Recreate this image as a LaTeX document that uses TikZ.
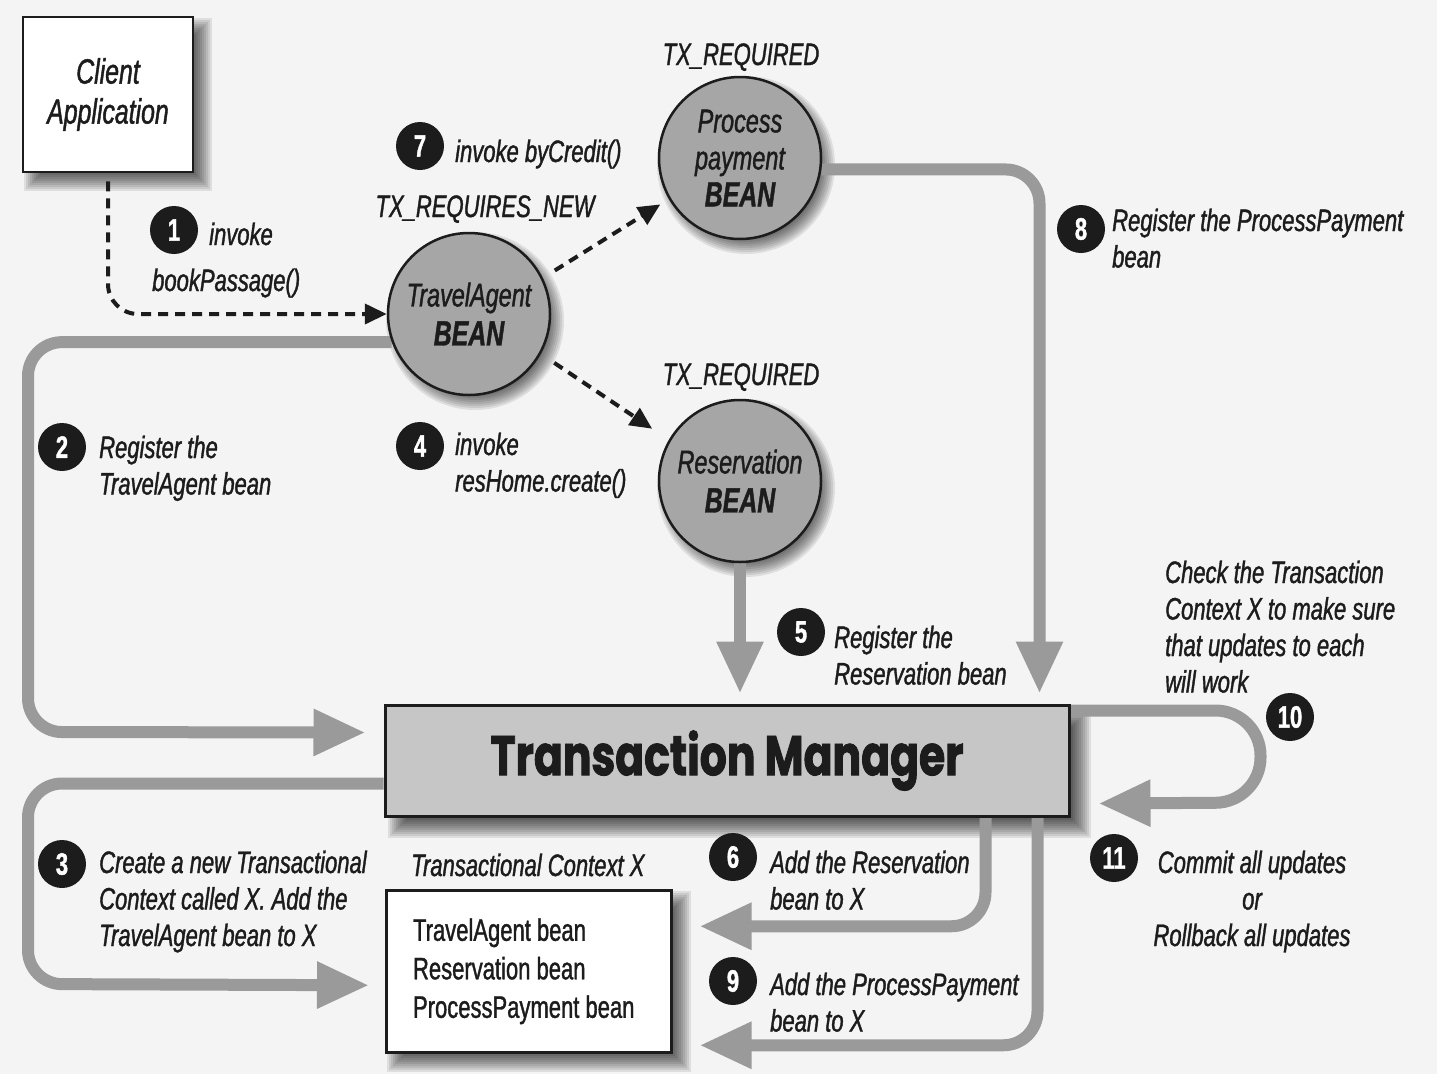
\documentclass[tikz,border=0pt]{standalone}
\usepackage{fontspec}
\setmainfont{Liberation Sans}
\newfontfamily\condfont{Liberation Sans}[FakeStretch=0.71, FakeBold=1.2]
\newfontfamily\heavyfont{Poppins}[FakeStretch=0.76, FakeBold=1.5]
\usetikzlibrary{arrows.meta,calc}

\definecolor{paper}{HTML}{F4F4F4}
\definecolor{ink}{HTML}{1C1C1C}
\definecolor{arrowgray}{HTML}{9A9A9A}
\definecolor{beangray}{HTML}{A6A6A6}
\definecolor{tmgray}{HTML}{C6C6C6}

\pgfdeclarelayer{paperlayer}
\pgfdeclarelayer{shade}
\pgfdeclarelayer{wires}
\pgfsetlayers{paperlayer,shade,wires,main}

% soft drop shadows built from stacked translucent shapes
\newcommand\boxshade[2]{%
  \foreach \sh in {-8,-6,...,10}{%
    \fill[black, opacity=0.085]
      ($(#1.north west)+(#2+\sh,#2+\sh)$) rectangle ($(#1.south east)+(#2-\sh,#2-\sh)$);
  }}
\newcommand\circshade[2]{%
  \foreach \sh in {-8,-6,...,10}{%
    \fill[black, opacity=0.085] ($(#1.center)+(6,7)$) circle[radius={#2-(\sh)}];
  }}

\tikzset{
  lbl/.style={font=\condfont\itshape\fontsize{31}{36.5}\selectfont, text=ink,
    align=left, inner sep=0pt, anchor=base west},
  lblc/.style={lbl, align=center, anchor=base},
  num/.style={circle, fill=ink, text=white, minimum size=48pt, inner sep=0pt,
    font=\condfont\bfseries\fontsize{31}{31}\selectfont},
  bean/.style={circle, draw=ink, line width=2.5pt, fill=beangray,
    minimum size=162pt, inner sep=0pt, align=center, text=ink,
    font=\condfont\itshape\fontsize{33}{39}\selectfont},
  plainbox/.style={rectangle, draw=ink, line width=2.5pt, fill=white, text=ink,
    inner sep=0pt},
  tmbox/.style={rectangle, draw=ink, line width=3pt, fill=tmgray, text=ink,
    minimum width=684pt, minimum height=111pt, inner sep=0pt,
    font=\heavyfont\bfseries\fontsize{56}{60}\selectfont},
  garrow/.style={draw=arrowgray, line width=12pt, rounded corners=34pt,
    -{Triangle[length=52pt,width=44pt]}},
  darrow/.style={draw=ink, line width=4pt, dash pattern=on 10pt off 7pt,
    -{Triangle[length=22pt,width=20pt]}},
}

\begin{document}
\begin{tikzpicture}[x=1pt,y=-1pt]
\useasboundingbox (0,0) rectangle (1437,1074);
\begin{pgfonlayer}{paperlayer}
  \fill[paper] (0,0) rectangle (1437,1074);
\end{pgfonlayer}

% --- components ---
\node[plainbox, minimum width=170pt, minimum height=155pt, align=center,
      font=\condfont\itshape\fontsize{35}{40}\selectfont]
      (client) at (108,94.5) {Client\\Application};

\node[bean] (ta) at (469,314) {TravelAgent\\{\bfseries\fontsize{35}{39}\selectfont BEAN}};
\node[bean, font=\condfont\itshape\fontsize{33}{37}\selectfont]
      (pp) at (740,158) {Process\\payment\\{\bfseries\fontsize{35}{37}\selectfont BEAN}};
\node[bean] (res) at (740,481) {Reservation\\{\bfseries\fontsize{35}{39}\selectfont BEAN}};

\node[lblc] (txnew) at (485,217) {TX\_REQUIRES\_NEW};
\node[lblc] (txpp) at (741,65) {TX\_REQUIRED};
\node[lblc] (txres) at (741,385) {TX\_REQUIRED};

\node[tmbox] (tm) at (727,760.5) {Transaction Manager};

\node[plainbox, anchor=north west, minimum width=285pt, minimum height=162pt,
      align=left, font=\condfont\fontsize{31}{38.5}\selectfont]
      (ctx) at (385,889) {TravelAgent bean\\Reservation bean\\ProcessPayment bean\hspace*{10pt}};
\node[lbl] (ctxtitle) at (411,876) {Transactional Context X};

\begin{pgfonlayer}{shade}
  \boxshade{client}{10}
  \boxshade{ctx}{10}
  \boxshade{tm}{12}
  \circshade{ta}{81}
  \circshade{pp}{81}
  \circshade{res}{81}
\end{pgfonlayer}

% --- step markers ---
\node[num] (m1) at (174,230) {1};
\node[num] (m2) at (62,447) {2};
\node[num] (m3) at (62,864) {3};
\node[num] (m4) at (420,446) {4};
\node[num] (m5) at (801,632) {5};
\node[num] (m6) at (733,857) {6};
\node[num] (m7) at (420,146) {7};
\node[num] (m8) at (1081,229) {8};
\node[num] (m9) at (733,981) {9};
\node[num] (m10) at (1290,717) {10};
\node[num] (m11) at (1114,858) {11};

% --- step texts (anchored at the baseline of their last line) ---
\node[lbl] (t1a) at (209,245) {invoke};
\node[lbl] (t1b) at (152,291) {bookPassage()};
\node[lbl] (t2) at (99,494.5) {Register the\\TravelAgent bean};
\node[lbl] (t3) at (99,946) {Create a new Transactional\\Context called X. Add the\\TravelAgent bean to X};
\node[lbl] (t4) at (455,491.5) {invoke\\resHome.create()};
\node[lbl] (t5) at (834,684.5) {Register the\\Reservation bean};
\node[lbl] (t6) at (770,909.5) {Add the Reservation\\bean to X};
\node[lbl] (t7) at (455,162) {invoke byCredit()};
\node[lbl] (t8) at (1112,267.5) {Register the ProcessPayment\\bean};
\node[lbl] (t9) at (770,1031.5) {Add the ProcessPayment\\bean to X};
\node[lbl] (t10) at (1165,692.5) {Check the Transaction\\Context X to make sure\\that updates to each\\will work};
\node[lblc] (t11) at (1252,946) {Commit all updates\\or\\Rollback all updates};

% --- connectors ---
\begin{pgfonlayer}{wires}
  % method calls
  \draw[darrow, rounded corners=30pt, shorten <=8pt] (client.south) |- (ta.west);
  \draw[darrow, shorten <=14pt, shorten >=10pt] (ta.26) -- (pp.210);
  \draw[darrow, shorten <=16pt, shorten >=20pt] (ta.-29) -- (res.150);

  % registrations with the transaction manager
  \coordinate (in2) at ($(tm.west)+(-18,-28)$);
  \draw[garrow] (ta.200) -| (28,732) -- (in2);
  \coordinate (in5) at ($(res.south |- tm.north)+(0,-10)$);
  \draw[garrow] (res.south) -- (in5);
  \coordinate (in8) at ($(tm.north east)+(-31,-10)$);
  \draw[garrow] (pp.-8) -| (in8);

  % transactional context updates
  \coordinate (out3) at ($(tm.west)+(0,23)$);
  \coordinate (in3) at ($(ctx.west)+(-16,14)$);
  \draw[garrow] (out3) -| (28,984) -- (in3);
  \coordinate (out6) at ($(tm.south east)+(-85,0)$);
  \coordinate (in6) at ($(ctx.east)+(27,-45)$);
  \draw[garrow] (out6) |- (in6);
  \coordinate (out9) at ($(tm.south east)+(-33,0)$);
  \coordinate (in9) at ($(ctx.east)+(27,74)$);
  \draw[garrow] (out9) |- (in9);

  % check and commit loop
  \coordinate (out10) at ($(tm.north east)+(0,7)$);
  \coordinate (in11) at ($(tm.east)+(28,43)$);
  \draw[garrow, rounded corners=45pt] (out10) -- ++(190,0) -- ++(0,92) -- (in11);
\end{pgfonlayer}
\end{tikzpicture}
\end{document}
